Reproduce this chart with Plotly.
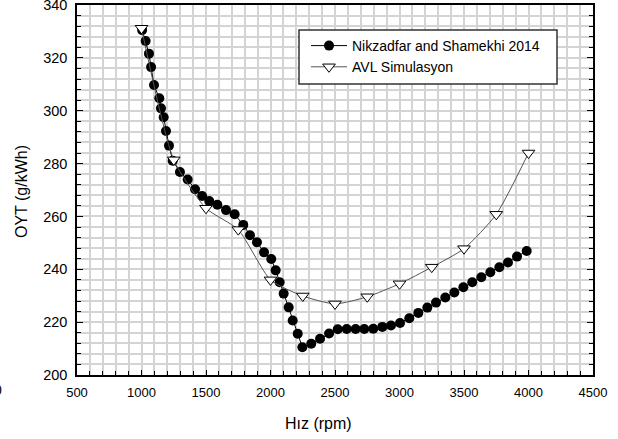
import plotly.graph_objects as go

# Nikzadfar and Shamekhi 2014
nik_rpm = [1005, 1032, 1058, 1074, 1097, 1138, 1151, 1172, 1190, 1213, 1242, 1298, 1358,
           1415, 1470, 1525, 1588, 1655, 1722, 1789, 1841, 1895, 1950, 2006, 2040, 2071,
           2102, 2141, 2172, 2211, 2247, 2316, 2384, 2454, 2521, 2591, 2660, 2727, 2797,
           2867, 2934, 3004, 3076, 3146, 3216, 3283, 3355, 3425, 3495, 3564, 3634, 3704,
           3774, 3841, 3911, 3986]
nik_val = [330.5, 326.4, 321.6, 316.5, 309.7, 304.7, 300.9, 297.5, 292.3, 286.8, 281.1,
           276.8, 274.0, 270.3, 267.7, 265.8, 264.4, 262.4, 260.8, 256.8, 252.9, 250.2,
           246.4, 243.9, 239.6, 235.1, 230.8, 225.6, 220.6, 215.6, 210.5, 211.8, 213.7,
           215.7, 217.3, 217.4, 217.4, 217.4, 217.5, 218.2, 218.7, 219.7, 221.5, 223.5,
           225.5, 227.4, 229.3, 231.2, 233.2, 235.1, 237.0, 238.9, 240.8, 242.6, 244.8,
           246.9]

# AVL Simulasyon
avl_rpm = [1000, 1250, 1500, 1750, 2000, 2250, 2500, 2750, 3000, 3250, 3500, 3750, 4000]
avl_val = [331.2, 281.4, 263.1, 255.0, 236.0, 229.9, 226.9, 229.6, 234.5, 240.8, 247.8,
           260.8, 284.0]

fig = go.Figure()
fig.add_trace(go.Scatter(
    x=nik_rpm, y=nik_val, mode="lines+markers", name="Nikzadfar and Shamekhi 2014",
    line=dict(color="black", width=1),
    marker=dict(symbol="circle", size=10, color="black"),
))
fig.add_trace(go.Scatter(
    x=avl_rpm, y=avl_val, mode="lines+markers", name="AVL Simulasyon",
    line=dict(color="#555555", width=1, shape="spline", smoothing=0.6),
    marker=dict(symbol="triangle-down", size=11, color="white",
                line=dict(color="black", width=1)),
))

L, T, W, H = 77, 5, 516, 370


def px(xp):
    return (xp - L) / W


def py(yp):
    return (T + H - yp) / H


grid_col = "#d4d4d4"
fig.update_layout(
    width=618, height=439,
    margin=dict(l=L, r=618 - L - W, t=T, b=439 - T - H, autoexpand=False),
    paper_bgcolor="white", plot_bgcolor="white",
    font=dict(family="Liberation Sans, Arial", size=13, color="black"),
    showlegend=True,
    legend=dict(x=px(306), y=py(30), xanchor="left", yanchor="top",
                bgcolor="rgba(0,0,0,0)", borderwidth=0,
                font=dict(size=14), tracegroupgap=0, itemwidth=36),
    xaxis=dict(range=[500, 4500], dtick=500, tick0=500, automargin=False,
               showgrid=True, gridcolor=grid_col, gridwidth=1.5,
               ticks="inside", ticklen=5, tickcolor="black",
               showline=True, linecolor="black", linewidth=1.5, mirror=True,
               zeroline=False, ticklabelstandoff=5,
               minor=dict(dtick=100, showgrid=True, gridcolor=grid_col, gridwidth=1.5,
                          ticks="inside", ticklen=4, tickcolor="black"),
               tickfont=dict(size=13)),
    yaxis=dict(range=[200, 340.001], dtick=20, tick0=200, automargin=False,
               showgrid=True, gridcolor=grid_col, gridwidth=1.5,
               ticks="inside", ticklen=6, tickcolor="black",
               showline=True, linecolor="black", linewidth=1.5, mirror="ticks",
               zeroline=False, ticklabelstandoff=5, ticklabeloverflow="allow",
               minor=dict(dtick=4, showgrid=True, gridcolor=grid_col, gridwidth=1.5,
                          ticks="inside", ticklen=4, tickcolor="black"),
               tickfont=dict(size=14.5)),
    shapes=[
        dict(type="rect", xref="paper", yref="paper", x0=px(299), x1=px(557),
             y0=py(84), y1=py(30), fillcolor="white",
             line=dict(color="#333333", width=1.5), layer="above"),
    ],
    annotations=[
        dict(text="Hız (rpm)", xref="paper", yref="paper", x=px(318),
             y=py(423), xanchor="center", yanchor="middle",
             showarrow=False, font=dict(size=16)),
        dict(text="OYT (g/kWh)", xref="paper", yref="paper", x=px(22),
             y=py(192), xanchor="center", yanchor="middle", textangle=-90,
             showarrow=False, font=dict(size=16)),
        dict(text="0", xref="paper", yref="paper", x=px(4),
             y=py(390), xanchor="right", yanchor="middle",
             showarrow=False, font=dict(size=14)),
    ],
)

fig.write_html("out.html")
